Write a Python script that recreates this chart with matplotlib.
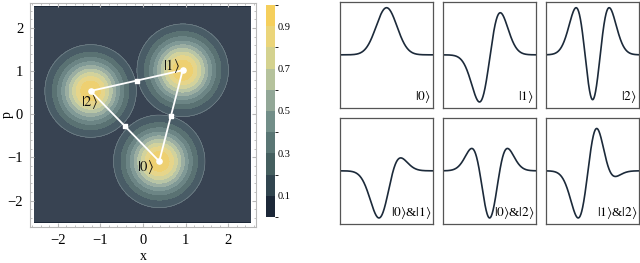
import numpy as np
import matplotlib
matplotlib.use("Agg")
import matplotlib.pyplot as plt
from matplotlib.colors import LinearSegmentedColormap, BoundaryNorm
from matplotlib.patches import Rectangle

plt.rcParams['font.family'] = 'serif'
plt.rcParams['font.serif'] = ['Liberation Serif', 'DejaVu Serif']
plt.rcParams['mathtext.fontset'] = 'stix'
plt.rcParams['hatch.linewidth'] = 0.8

# centres of the three states in phase space (x, p), drawing order
stan_x = [-1.23, 0.93, 0.38]
stan_p = [0.54, 1.02, -1.09]
stan_vardai = [r'$|2\rangle$', r'$|1\rangle$', r'$|0\rangle$']
# label positions (beside each centre)
zym_x = [-1.26, 0.66, 0.05]
zym_p = [0.29, 1.11, -1.23]

# colour levels
lygiai = [0.0, 0.1, 0.2, 0.3, 0.4, 0.5, 0.6, 0.7, 0.8, 0.9, 1.0]
cb_zymes = [0.1, 0.3, 0.5, 0.7, 0.9]

# wavefunction panels: coefficients for psi0, psi1, psi2
banga_koef = [
    [1.0, 0.0, 0.0],
    [-0.08, 1.0, 0.0],
    [-0.05, 0.0, 1.0],
    [-0.9, 1.0, 0.0],
    [-0.65, 0.0, 1.0],
    [0.24, 0.85, -0.71],
]
banga_vardai = [r'$|0\rangle$', r'$|1\rangle$', r'$|2\rangle$',
                r'$|0\rangle$&$|1\rangle$', r'$|0\rangle$&$|2\rangle$',
                r'$|1\rangle$&$|2\rangle$']

spalvos = ['#1c2838', '#31454f', '#45605f', '#5a7674', '#728e88',
           '#93a897', '#b5c29c', '#d4d28f', '#ecd57a', '#f5cf5c']
cmap = LinearSegmentedColormap.from_list('mm', spalvos, N=256)
norm = BoundaryNorm(lygiai, cmap.N)

fig = plt.figure(figsize=(6.4, 2.63), dpi=100)

# ---- phase space plot ----
ax = fig.add_axes([0.047, 0.137, 0.353, 0.852])
xs = np.linspace(-2.55, 2.53, 400)
ps = np.linspace(-2.5, 2.49, 400)
X, P = np.meshgrid(xs, ps)

ax.contourf(X, P, np.zeros_like(X) + 0.05, levels=lygiai, cmap=cmap, norm=norm)
for x0, p0 in zip(stan_x, stan_p):
    W = np.exp(-2 * ((X - x0)**2 + (P - p0)**2))
    ax.contourf(X, P, W, levels=lygiai[1:], cmap=cmap, norm=norm)
for x0, p0 in zip(stan_x, stan_p):
    W = np.exp(-2 * ((X - x0)**2 + (P - p0)**2))
    ax.contour(X, P, W, levels=[0.1], colors='white', linewidths=0.4, alpha=0.3)

# speckled texture of the original raster
ax.add_patch(Rectangle((-2.55, -2.5), 5.08, 4.99, facecolor='none',
                       edgecolor=(0.8, 0.84, 0.88, 0.16), linewidth=0,
                       hatch='++++++++++++'))

# triangle
tx = [stan_x[2], stan_x[1], stan_x[0], stan_x[2]]
tp = [stan_p[2], stan_p[1], stan_p[0], stan_p[2]]
ax.plot(tx, tp, color='white', lw=1.3)
ax.scatter(stan_x, stan_p, color='white', s=14, zorder=5)
mx = [(tx[i] + tx[i + 1]) / 2 for i in range(3)]
mp = [(tp[i] + tp[i + 1]) / 2 for i in range(3)]
ax.scatter(mx, mp, color='white', marker='s', s=10, zorder=5)
for xv, pv, t in zip(zym_x, zym_p, stan_vardai):
    ax.text(xv, pv, t, fontsize=10.5, ha='center', va='center', color='#111111')

ax.set_xlim(-2.65, 2.65)
ax.set_ylim(-2.61, 2.58)
ax.set_xticks([-2, -1, 0, 1, 2])
ax.set_yticks([-2, -1, 0, 1, 2])
ax.set_xticklabels(['−2', '−1', '0', '1', '2'])
ax.set_yticklabels(['−2', '−1', '0', '1', '2'])
ax.minorticks_on()
ax.tick_params(which='both', direction='in', top=True, right=True, color='#b8b8b8', labelsize=10.5)
ax.tick_params(which='major', length=3, pad=5)
ax.tick_params(which='minor', length=1.5)
for s in ax.spines.values():
    s.set_color('#b8b8b8')
ax.set_xlabel('x', fontsize=10)
ax.set_ylabel('p', fontsize=10)
ax.xaxis.set_label_coords(0.5, -0.105)
ax.yaxis.set_label_coords(-0.07, 0.5)

# colorbar
cax = fig.add_axes([0.416, 0.175, 0.014, 0.806])
sm = plt.cm.ScalarMappable(norm=norm, cmap=cmap)
cb = fig.colorbar(sm, cax=cax, ticks=cb_zymes, spacing='proportional')
cb.outline.set_visible(False)
cb.ax.tick_params(length=0, labelsize=7.5, pad=2)

# ---- wavefunction panels ----
xr = np.linspace(-4.5, 4.5, 500)
psi0 = np.pi**-0.25 * np.exp(-xr**2 / 2)
psi1 = np.sqrt(2) * xr * psi0
psi2 = (2 * xr**2 - 1) / np.sqrt(2) * psi0

stulpai = [0.531, 0.692, 0.853]
eilutes = [0.589, 0.148]
for i, (k, vard) in enumerate(zip(banga_koef, banga_vardai)):
    b = fig.add_axes([stulpai[i % 3], eilutes[i // 3], 0.146, 0.405])
    f = k[0] * psi0 + k[1] * psi1 + k[2] * psi2
    f = f / np.abs(f).max()
    b.plot(xr, f, color='#1c2a3a', lw=1.2)
    b.set_xlim(-4.5, 4.5)
    b.set_ylim(-1.13, 1.13)
    b.set_xticks([])
    b.set_yticks([])
    for s in b.spines.values():
        s.set_color('#555555')
        s.set_linewidth(0.9)
    b.text(0.975, 0.025, vard, transform=b.transAxes, ha='right', va='bottom', fontsize=9.5)

fig.savefig('out.png', dpi=100)
